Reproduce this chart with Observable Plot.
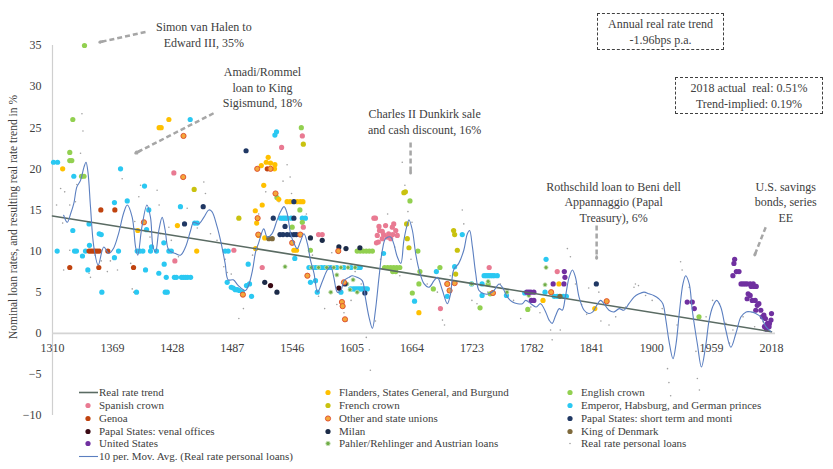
<!DOCTYPE html>
<html><head><meta charset="utf-8">
<script src="https://cdn.jsdelivr.net/npm/d3@7"></script>
<script src="https://cdn.jsdelivr.net/npm/@observablehq/plot@0.6"></script>
<style>
body{margin:0;background:#fff;font-family:"Liberation Serif","Times New Roman","DejaVu Serif",serif;}
#wrap{position:relative;width:833px;height:469px;overflow:hidden}
.box{position:absolute;border:1.3px dashed #404040;color:#404040;font-size:12px;text-align:center;line-height:16px;box-sizing:border-box;padding-top:2px}
.leg{position:absolute;font-size:11px;color:#404040;white-space:nowrap;line-height:13px;height:13px}
.leg svg{position:absolute;top:0}
svg text{font-family:"Liberation Serif","Times New Roman","DejaVu Serif",serif}
</style></head><body><div id="wrap"></div>
<script>
// ---------- data (year, rate %) ----------
const xTicks = [1310,1369,1428,1487,1546,1605,1664,1723,1782,1841,1900,1959,2018];
const yTicks = [-10,-5,0,5,10,15,20,25,30,35];

const trend = [{year:1310, value:14.27},{year:2018, value:0.19}];

const spanish = [[1429.5,19.5],[1430.5,8.8],[1488.6,10.1],[1516.5,8.0],[1535.6,22.6],[1556,24.0],[1557,12.9],[1572,12.0],[1575.6,12.0],
 [1626.5,14.0],[1628,14.0],[1629,11.0],[1629.8,11.9],[1630.8,11.1],[1631.5,13.0],[1632,12.5],[1634.7,12.4],[1634.7,11.5],[1636,12.0],[1638,13.1],
 [1639.6,11.7],[1641,12.1],[1643,11.5],[1644.6,12.9],[1645,12.0],[1646,13.3],[1648,12.5],[1649.5,11.9],[1692,3.0],[1740,8.0],[1807,7.5]];
const genoa = [[1327,8.0],[1346,10],[1348,10],[1350,10],[1352,10],[1354,10],[1356,10],[1355.6,8.0],[1357.6,15.0],[1364.5,10],[1371.4,15.0],[1389.8,8.0],[1521.5,20.0]];
const venal = [[1524.7,5.8],[1592,5.5]];
const unitedStates = [[1777,5.0],[1779,5.0],[1781,5.0],[1784,5.0],[1781.5,4.0],[1784,4.0],[1803,6.0],[1813.6,6.0],[1814,7.5],[1814.6,6.8],
 [1935,3.8],[1940,3.8],[1942,3.0],[1980,7.0],[1981,8.5],[1981.7,9.0],[1983.4,7.5],[1986,7.5],[1988,6.0],[1990,6.0],[1992,6.0],[1994,6.0],
 [1997,6.0],[2000,6.0],[1998,5.7],[2001,5.7],[2003,5.7],[1995,4.8],[1997,4.6],[1994,4.2],[1999,4.0],[2002,4.0],[2004,3.4],[2005.6,3.6],
 [2002.5,2.8],[2007.5,2.8],[2009,2.0],[2010.5,2.2],[2012,1.8],[2014,1.2],[2015.6,0.8],[2016,1.2],[2017.5,1.6],[2018,2.4],[2011,0.8],[2013,0.5]];
const flanders = [[1320,20.0],[1415,25.0],[1417,25.0],[1424.6,26.0],[1394,12.5],[1433,13.1],[1452,10.0],[1509.7,14.9],[1510,10.3],[1511,13.4],
 [1513,11.9],[1515.6,20.4],[1516.5,15.6],[1518,18.0],[1519,11.6],[1520.5,20.8],[1522.4,21.4],[1524.7,20.7],[1529,20.5],[1528.6,20.0],
 [1532.8,16.3],[1541,16],[1544,16],[1551,16],[1554,16],[1556.6,16],[1547.7,10.1],[1550.3,10.1],[1670.8,2.5],[1793,4.0],[1808.7,6.0],[1844,3.0]];
const french = [[1449.5,17.5],[1493.5,14.0],[1557,23.0],[1656,17.1],[1657.5,17.2],[1658.7,13.3],[1659.4,11.5],[1661,10.4],[1705,12.5],[1706,12.0],[1708.6,10.1],[1707,7.2]];
const otherUnions = [[1400,13.5],[1438.7,19.0],[1439,24.0],[1497.5,4.7],[1511.6,20.0],[1512,14.0],[1512.6,12.0],[1524.7,20.0],[1529.6,17.0],
 [1546,11.0],[1554,12.0],[1561,7.0],[1591.4,10.0],[1595,3.8],[1595.7,3.3],[1597,6.2],[1598,1.7],[1698.7,6.0],[1701,5.2],[1706,6.1],[1743.7,4.9],[1801,5.0],[1855.7,3.9]];
const milan = [[1564,11.6],[1575.6,11.3],[1592,10.5],[1599,10.3],[1612.7,10.4],[1519,6.2],[1531,5.0]];
const papalShort = [[1440,13.3],[1458.4,15.4],[1500.6,22.2],[1527.4,14.0],[1534,12],[1537,12],[1541,12],[1544.4,12],[1547.7,12],[1550,12],
 [1547.7,16.0],[1547.7,14.0],[1539,13.0],[1598,6.0],[1617.6,4.9],[1845.5,6.0]];
const denmark = [[1523,11.5],[1526.4,11.5],[1809.7,4.5]];
const pahler = [[1539,8.1],[1565,8.0],[1572,8.0],[1580,8.0],[1587,8.0],[1594,8.0],[1601,8.0],[1608,8.0],[1584,5.0],[1590,7.1],[1600,6.0],
 [1603,5.3],[1606,6.5],[1610,5.0],[1757.5,5.0],[1779,4.6],[1796,8.0],[1795,5.9],[1722.7,6.0],[1739,6.3]];
const english = [[1327,22.0],[1327,21.0],[1329,21.0],[1330,26.0],[1338.6,19.1],[1341,19.1],[1341.5,35.0],[1546,12.9],[1531,16.5],[1553.6,15.0],
 [1555,25.0],[1556,13.5],[1564,10.1],[1610,10],[1613,10],[1616,10],[1619,10],[1622,10],[1625,10],[1637,8.0],[1640,8.0],[1643,8.0],[1646,8.0],
 [1649,8.0],[1652,8.0],[1645,7.5],[1648,7.5],[1662,16.1],[1669.8,10.0],[1671.8,7.5],[1670.8,6.0],[1664.3,4.9],[1685,5.4],[1691.5,8.0],
 [1731,3.1],[1739,6.0],[1741,4.8],[1778,2.9],[1946.6,2.0]];
const emperor = [[1311,20.8],[1315,20.8],[1331,19.1],[1377,20],[1400.6,17.9],[1371,15.9],[1383.6,16.1],[1404.8,15.0],[1436,15.4],[1445.6,26.0],
 [1450,13.4],[1452.5,13.4],[1330,12.5],[1346,13.3],[1356,12.1],[1358,12.0],[1402.6,12.6],[1419.6,11.0],
 [1314.6,10],[1331.7,10],[1333.6,10],[1342.5,10],[1375,10],[1393.4,10],[1396,10],[1399,10],[1406.5,10],[1412.4,10],[1424.6,10],[1427,10],[1480,10],[1483,10],
 [1346.4,10.7],[1407.5,10.5],[1339.5,9.4],[1371,9.2],[1420,8.4],[1344.8,7.7],[1401.6,7.7],[1414.7,7.3],
 [1422,6.8],[1430,6.8],[1432,6.8],[1437,6.8],[1439,6.8],[1441,6.8],[1443,6.8],[1446,6.8],
 [1358.6,5.0],[1392.7,5.0],[1421,5.0],[1423,5.0],
 [1482,6.2],[1486,5.6],[1488,5.5],[1490,5.3],[1492,5.3],[1494,5.2],[1497,5.0],[1501,5.8],[1504,6.0],[1506,4.5],[1502.7,8.4],
 [1529,24.1],[1530.6,24.5],[1534.6,14],[1537,14],[1539,14],[1541,14],[1545,14],[1556,14],[1559,14],
 [1548.6,9.1],[1564,6.2],[1569,6.4],[1570.7,5.0],[1594,5.0],
 [1562.5,8],[1566,8],[1569,8],[1572,8],[1575,8],[1578,8],[1581,8],[1584,8],[1590,8],[1597,8],[1604,8],[1611,8],[1613,8],
 [1603.5,5.4],[1606,5.4],[1608,5.4],[1610,5.4],[1612,5.4],[1614,5.4],[1616,5.4],[1618,5.4],[1620,5.4],
 [1636,9.7],[1666.5,3.9],[1688,7.5],[1698.7,4.5],[1706,8.1],[1713.5,12.0],[1722.7,6.0],[1733,6.0],[1733,4.6],
 [1735,7],[1737,7],[1739,7],[1741,7],[1743,7],[1745,7],[1748,7],
 [1757,4.6],[1775,4.9],[1796,9.0],[1795,5.0],[1804,4.5],[1807,4.5],[1813,4.5],[1816,4.5]];
const personal = [[1314,15.6],[1318,17.6],[1320,13.4],[1321,7.7],[1322,17.2],[1327,15.6],[1327,10.1],[1332.6,16.0],[1334,18.1],[1337.6,21.9],
 [1339,26.7],[1340,24.6],[1346,7.3],[1347.4,6.8],[1352,9.5],[1358,8.8],[1364,7.5],[1367,8.8],[1374,7.7],[1378.6,18.8],[1387,8.5],[1388.5,5.4],
 [1390,5.0],[1391,13.6],[1395,16.6],[1396.7,18.0],[1406,11.7],[1407.5,9.9],[1413,17.4],[1415,15.6],[1416,12.1],[1424.6,12.9],[1427,11.3],
 [1434,9.3],[1442.6,15.2],[1452.6,12.8],[1459,18.4],[1460.6,17.0],[1465.6,12.1],[1472,11.3],[1478.7,8.1],[1480,9.0],[1482,7.4],[1486,7.2],
 [1493.5,1.8],[1498,3.0],[1507,9.5],[1513,14.5],[1520,17.2],[1533,16.0],[1537,18.5],[1541,20.5],[1544,19.0],[1545.4,17.0],[1560,14.5],
 [1566,9.5],[1572,4.5],[1578,3.0],[1585,9.8],[1590,3.5],[1597,2.5],[1600,1.5],[1604,4.0],[1608,7.5],[1614,6.0],[1619,-0.5],[1622,-2.0],
 [1623,-4.5],[1628,1.5],[1633,9.0],[1640,14.5],[1647,10.5],[1652,7.0],[1654.4,20.8],[1657,18.0],[1660,14.8],[1663,9.0],[1664,13.5],
 [1679,6.0],[1689,5.0],[1694,1.6],[1696,1.0],[1701.6,7.0],[1703,12.5],[1713.5,15.0],[1715,13.3],[1723,4.0],[1728,3.6],[1738.7,5.0],
 [1751,6.0],[1764,4.0],[1771,1.8],[1781,3.2],[1790,2.5],[1800.5,0.4],[1802,-0.8],[1810,0.4],[1817,10.3],[1820,9.3],[1825,6.0],[1831,3.5],
 [1836,2.3],[1838,5.5],[1848,5.0],[1850,1.5],[1854.6,3.5],[1858,1.0],[1864.6,2.0],[1874.5,3.2],[1882.6,5.6],[1884,6.0],[1887,5.8],
 [1894,4.6],[1900.5,4.0],[1910.4,3.0],[1915.6,-4.3],[1917,-6.0],[1918.7,-7.6],[1925,1.0],[1928.5,8.7],[1930,7.7],[1937,5.6],[1943.6,-2.2],
 [1945,-5.5],[1947,-6.9],[1953.6,2.0],[1960,4.0],[1966.7,3.6],[1973,1.2],[1976.6,-1.2],[1980,0.4],[1990,2.0],[2001.4,0.8],[2009.6,1.4]];
const movAvg = [[1321,14.35],[1324.5,13.5],[1328,14.6],[1331,15.8],[1334,17.8],[1337.6,18.6],[1341,20.2],[1343,20.8],[1345,19.5],[1347.4,15.4],
 [1350.7,10.5],[1355,8.3],[1360.5,10.5],[1365.5,9.7],[1370,10.3],[1375,12.1],[1380,14.6],[1383.6,15.6],[1388.5,14.1],[1391.8,10.5],[1394,9.5],
 [1398,12.9],[1403,15.6],[1406.5,14.1],[1409,10.5],[1411.5,9.9],[1414.7,12.5],[1418,14.1],[1421,12.5],[1424.6,10.1],[1431,9.7],[1436,9.5],
 [1441,10.5],[1446,12.5],[1449,13.5],[1454,13.3],[1459,14.1],[1464,15.0],[1467,14.8],[1472,13.0],[1476,11.0],[1480,8.5],[1483,6.5],[1488,6.5],
 [1493,5.8],[1500,5.2],[1503,5.8],[1507,7.7],[1510,9.9],[1513,11.0],[1518,12.7],[1521.5,11.7],[1526,12.1],[1531,13.7],[1534.6,14.8],[1538,15.4],
 [1541,14.6],[1544.5,12.1],[1548,10.9],[1551,10.3],[1554,11.1],[1557.6,12.1],[1561,10.9],[1564,8.9],[1567.5,7.3],[1571,5.0],[1576,6.4],
 [1580.6,7.7],[1584,8.1],[1587,6.8],[1590.5,5.0],[1594,5.2],[1597,6.4],[1602,6.8],[1605,7.0],[1610,6.8],[1615,6.4],[1618,4.4],[1621.6,2.0],
 [1625,0.6],[1628,2.8],[1631.5,6.8],[1634.8,10.1],[1638,11.5],[1643,11.7],[1646,10.9],[1649.5,9.3],[1653,8.5],[1656,11.3],[1659.5,13.3],
 [1661,13.8],[1664.4,12.5],[1667.6,9.7],[1671,7.7],[1676,6.0],[1680.8,5.6],[1685.7,6.4],[1689,6.8],[1694,5.2],[1698.8,3.6],[1702,4.8],
 [1705,7.7],[1710,8.5],[1715,10.1],[1718.5,12.1],[1720.7,12.5],[1723.5,10.5],[1726.7,7.3],[1730,5.2],[1735,4.8],[1740,4.8],[1744.7,5.2],
 [1749.7,6.0],[1753,5.6],[1758,4.4],[1763,3.8],[1768,3.6],[1772.7,3.6],[1776,4.0],[1781,3.6],[1786,3.2],[1790.6,3.6],[1795.6,2.6],[1799,1.6],
 [1802,1.2],[1805.6,2.2],[1809,3.0],[1812,2.8],[1815,4.4],[1818.7,6.8],[1822,7.7],[1825,6.8],[1828.5,4.4],[1833.5,2.8],[1838,2.4],[1842,2.6],
 [1845,3.2],[1849.7,4.0],[1853,3.6],[1858,2.8],[1863,2.6],[1868,3.0],[1872.7,2.8],[1877.6,3.6],[1882.6,4.4],[1887.5,4.8],[1892.4,5.0],
 [1897.4,4.8],[1902,4.6],[1907,4.2],[1911,3.6],[1914,1.6],[1917,-0.9],[1921,-3.1],[1924,-1.3],[1927.5,2.8],[1930.8,6.0],[1933.5,7.0],[1937,6.0],
 [1940,2.8],[1945,-1.3],[1949,-4.1],[1953,-1.7],[1956.6,1.6],[1960,3.2],[1964,4.0],[1968,3.2],[1973,0.4],[1978,-1.7],[1983,0.0],[1988,2.0],
 [1993,2.6],[1997.6,2.6],[2002.6,2.4],[2007.5,2.0],[2012.5,0.8],[2017.5,0.2]];

const notes = [
 {text:"Simon van Halen to\nEdward III, 35%", x:1459, y:36.4, ax1:1401.6, ay1:36.65, ax2:1356.3, ay2:35.4},
 {text:"Amadi/Rommel\nloan to King\nSigismund, 18%", x:1516.8, y:30.0, ax1:1468.6, ay1:26.76, ax2:1391.7, ay2:21.9},
 {text:"Charles II Dunkirk sale\nand cash discount, 16%", x:1676.4, y:25.85, ax1:1662.6, ay1:23.2, ax2:1662.6, ay2:19.46},
 {text:"Rothschild loan to Beni dell\nAppannaggio (Papal\nTreasury), 6%", x:1862.5, y:16.05, ax1:1845.8, ay1:13.1, ax2:1845.8, ay2:9.1},
 {text:"U.S. savings\nbonds, series\nEE", x:2032, y:16.05, ax1:2012.3, ay1:12.9, ax2:2001.4, ay2:9.5}
];
const boxes = [
 {text:"Annual real rate trend<br>-1.96bps p.a.", left:597, top:13, w:127, h:37},
 {text:"2018 actual&nbsp; real: 0.51%<br>Trend-implied: 0.19%", left:675, top:77, w:148, h:37}
];

// ---------- styles ----------
const FONT = "'Liberation Serif','Times New Roman','DejaVu Serif',serif";
const S = {
 trend:{type:"line", stroke:"#5a6b63", w:1.6},
 ma:{type:"line", stroke:"#5b7fc0", w:1.1},
 spanish:{fill:"#e97a92"}, genoa:{fill:"#c0430f"}, venal:{fill:"#3b0a14"}, us:{fill:"#7030a0"},
 flanders:{fill:"#ffc000"}, french:{fill:"#c9c20f"}, other:{fill:"#f4a83a", stroke:"#dd4a2c"},
 milan:{fill:"#1c2b48"}, pahler:{fill:"#70ad47", stroke:"#c5e0b4", r:2}, english:{fill:"#92d050"},
 emperor:{fill:"#2ac8f2"}, papal:{fill:"#203864"}, denmark:{fill:"#7f6a3c"}, personal:{fill:"#a0a0a0", r:0.8}
};
const seriesList = [
 ["emperor", emperor],["english", english],["flanders", flanders],["french", french],["spanish", spanish],["genoa", genoa],
 ["pahler", pahler],["papal", papalShort],["milan", milan],["denmark", denmark],["other", otherUnions],["venal", venal],["us", unitedStates]
];
const legendItems = [
 ["Real rate trend","trend"],["Flanders, States General, and Burgund","flanders"],["English crown","english"],
 ["Spanish crown","spanish"],["French crown","french"],["Emperor, Habsburg, and German princes","emperor"],
 ["Genoa","genoa"],["Other and state unions","other"],["Papal States: short term and monti","papal"],
 ["Papal States: venal offices","venal"],["Milan","milan"],["King of Denmark","denmark"],
 ["United States","us"],["Pahler/Rehlinger and Austrian loans","pahler"],["Real rate personal loans","personal"],
 ["10 per. Mov. Avg. (Real rate personal loans)","ma"]
];

const X = d => d[0], Y = d => d[1];
const marks = [
 Plot.ruleX([1310], {y1:-10, y2:35, stroke:"#cfcfcf", strokeWidth:1.2}),
 Plot.ruleY([0], {x1:1310, x2:2022, stroke:"#d4d4d4", strokeWidth:1.8}),
 Plot.axisY({ticks:yTicks, tickSize:0, tickPadding:11, fontSize:12, label:null, color:"#404040"}),
 Plot.text(xTicks, {x:d=>d, y:0, dy:15, text:d=>String(d), fontSize:12, fill:"#404040"}),
 Plot.dot(personal, {x:X, y:Y, r:0.8, fill:S.personal.fill}),
 ...seriesList.map(([k, data]) => Plot.dot(data, {x:X, y:Y, r:S[k].r || 2.6, fill:S[k].fill,
    stroke:S[k].stroke || "none", strokeWidth:S[k].stroke ? 0.9 : 0})),
 Plot.line(trend, {x:"year", y:"value", stroke:S.trend.stroke, strokeWidth:S.trend.w}),
 Plot.line(movAvg, {x:X, y:Y, stroke:S.ma.stroke, strokeWidth:S.ma.w, curve:"catmull-rom"}),
 Plot.link(notes, {x1:"ax1", y1:"ay1", x2:"ax2", y2:"ay2", stroke:"#a6a6a6", strokeWidth:2.5, strokeDasharray:"5,3"}),
 Plot.arrow(notes, {x1:d=>d.ax2-(d.ax2-d.ax1)*0.06, y1:d=>d.ay2-(d.ay2-d.ay1)*0.06, x2:"ax2", y2:"ay2",
    stroke:"#a6a6a6", strokeWidth:2.5, headLength:8}),
 Plot.text(notes, {x:"x", y:"y", text:"text", fontSize:12, fill:"#404040", lineHeight:1.3})
];

const svg = Plot.plot({
 width:833, height:469, marginLeft:52, marginRight:62, marginTop:45, marginBottom:54,
 x:{domain:[1310,2018], axis:null}, y:{domain:[-10,35]},
 style:{fontFamily:FONT, background:"transparent", overflow:"visible"},
 marks
});
d3.select(svg).append("text")
  .attr("transform","translate(14,217) rotate(-90)")
  .attr("text-anchor","middle").attr("dominant-baseline","middle")
  .attr("font-size",11.5).attr("fill","#404040").attr("font-family",FONT)
  .text("Nominal loan rates, and resulting real rate trend in %");

const wrap = document.getElementById("wrap");
svg.style.position = "absolute"; svg.style.left = "0"; svg.style.top = "0";
wrap.appendChild(svg);

boxes.forEach(b => {
 const d = document.createElement("div");
 d.className = "box";
 Object.assign(d.style, {left:b.left+"px", top:b.top+"px", width:b.w+"px", height:b.h+"px"});
 d.innerHTML = b.text;
 wrap.appendChild(d);
});

const colX = [88, 328, 570], rowY = [392, 405, 418, 431, 443.7, 456];
legendItems.forEach(([label, key], i) => {
 const c = i % 3, r = Math.floor(i / 3), s = S[key];
 const d = document.createElement("div");
 d.className = "leg";
 d.style.left = (colX[c] + 11) + "px";
 d.style.top = (rowY[r] - 6.5) + "px";
 d.textContent = label;
 const m = document.createElementNS("http://www.w3.org/2000/svg", "svg");
 m.setAttribute("width", 24); m.setAttribute("height", 13);
 m.style.left = "-21px";
 if (s.type === "line") {
   m.innerHTML = `<line x1="1" x2="20" y1="6.5" y2="6.5" stroke="${s.stroke}" stroke-width="${s.w}"/>`;
 } else {
   const rr = key === "personal" ? 0.8 : (key === "pahler" ? 2.2 : 2.6);
   m.innerHTML = `<circle cx="10" cy="6.5" r="${rr}" fill="${s.fill}" ${s.stroke ? `stroke="${s.stroke}" stroke-width="0.9"` : ""}/>`;
 }
 d.appendChild(m);
 wrap.appendChild(d);
});
</script></body></html>
